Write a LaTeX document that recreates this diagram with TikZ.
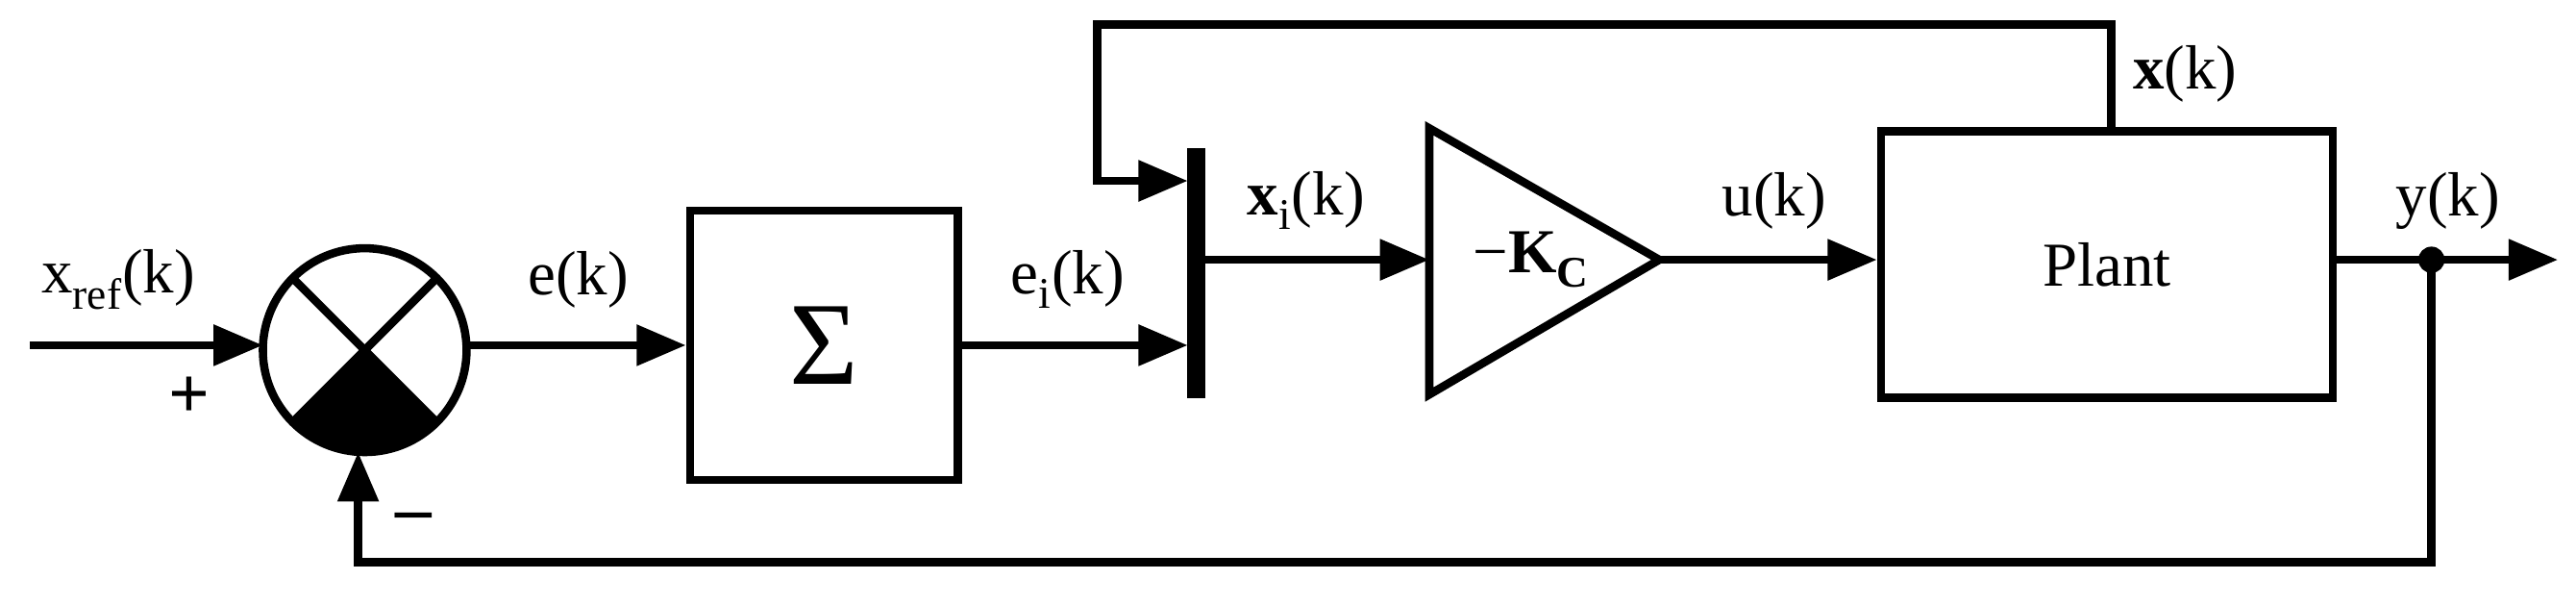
\documentclass[tikz,border=0pt]{standalone}
\usepackage{fontspec}
\setmainfont{Liberation Serif}
\usetikzlibrary{arrows.meta,calc}
\begin{document}
\begin{tikzpicture}[x=1pt,y=-1pt,line width=5pt,
  arr/.style={-{Triangle[length=30pt,width=24pt]}},
  lbl/.style={font=\fontsize{38}{44}\selectfont,inner sep=0pt},
  box/.style={draw,line width=5pt}]
\useasboundingbox (0,0) rectangle (1568,368);
% summing junction
\coordinate (sc) at (222,213);
\fill (sc) -- ++(-44,44) arc[start angle=135,end angle=45,radius=62] -- cycle;
\draw (sc) circle[radius=62];
\draw ($(sc)+(-44,-44)$) -- ($(sc)+(44,44)$);
\draw ($(sc)+(44,-44)$) -- ($(sc)+(-44,44)$);
\node[circle,minimum size=124pt,inner sep=0pt] (sum) at (sc) {};
\coordinate (in) at (18,210);
\draw[arr] (in) -- (160,210);
\node[lbl] at (72,170) {x\textsubscript{ref}(k)};
\node[lbl,font=\fontsize{44}{48}\selectfont\bfseries] at (115,242) {+};
\node[lbl,font=\fontsize{44}{48}\selectfont\bfseries] at (252,318) {\textendash};
% Sigma box
\node[box,minimum width=163pt,minimum height=164pt] (S) at (501.5,210) {\fontsize{72}{80}\selectfont Σ};
\draw[arr] (285,210) -- (S.west);
\node[lbl] at (352,170) {e(k)};
% bar
\draw[line width=11pt] (728,90) coordinate (bt) -- (728,242) coordinate (bb);
\coordinate (bi) at (723,210);
\draw[arr] (S.east) -- (bi);
\node[lbl] at (650,170) {e\textsubscript{i}(k)};
% triangle
\draw (870,78) -- (1010,158) -- (870,240) -- cycle;
\node[lbl] at (932,158) {\fontsize{38}{44}\selectfont −\textbf{K\textsubscript{C}}};
\coordinate (tl) at (870,158);
\coordinate (tr) at (1010,158);
\draw[arr] (733,158) -- (tl);
\node[lbl] at (795,122) {\textbf{x}\textsubscript{i}(k)};
% plant
\node[box,minimum width=275pt,minimum height=162pt,font=\fontsize{38}{44}\selectfont] (P) at (1282.5,161) {Plant};
\draw[arr] (tr) -- (tr -| P.west);
\node[lbl] at (1080,122) {u(k)};
% top feedback
\draw[arr] (1285,80) -- (1285,15) -- (668,15) -- (668,110) -- (723,110);
\node[lbl] at (1330,45) {\textbf{x}(k)};
% output
\draw[arr] (P.east |- 0,158) -- (1557,158);
\fill (1480,158) circle[radius=8];
\node[lbl] at (1490,122) {y(k)};
\draw[arr] (1480,158) -- (1480,342) -- (218,342) -- (218,275);
\end{tikzpicture}
\end{document}
